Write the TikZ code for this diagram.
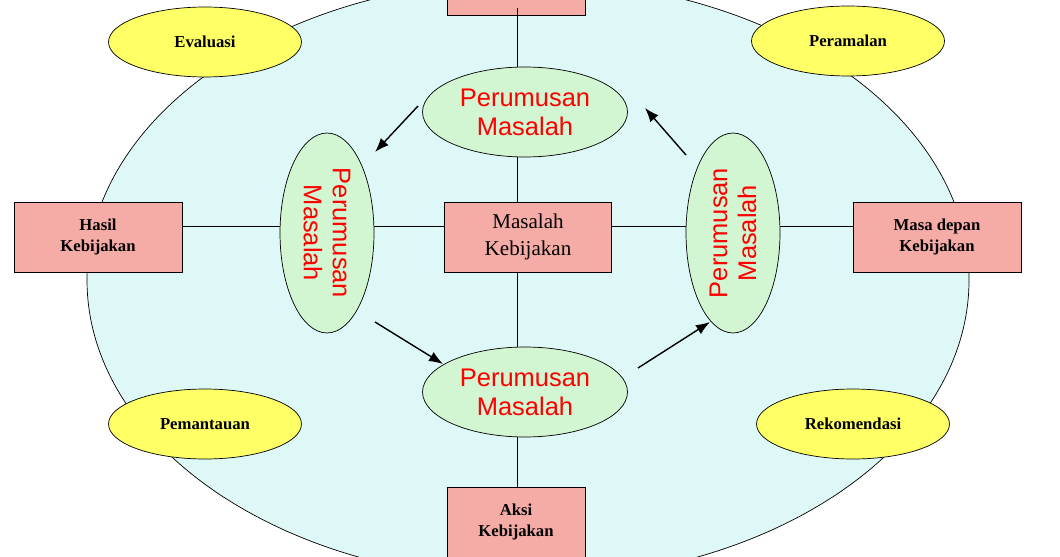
\documentclass[tikz,border=0pt]{standalone}
\usepackage{fontspec}
\setmainfont{Liberation Serif}
\newfontfamily\arialf{Liberation Sans}
\usetikzlibrary{shapes.geometric,arrows.meta,calc}
\definecolor{bigc}{HTML}{DDF8F6}
\definecolor{grn}{HTML}{D2F5D2}
\definecolor{yel}{HTML}{FFFF66}
\definecolor{pnk}{HTML}{F5ABA6}
\begin{document}
\begin{tikzpicture}[x=0.02cm,y=-0.02cm,
  box/.style={draw,fill=pnk,minimum width=3.36cm,minimum height=1.4cm,align=center,font=\bfseries\fontsize{9.5}{12}\selectfont},
  gr/.style={draw,ellipse,fill=grn,minimum width=4.1cm,minimum height=1.8cm,inner sep=0pt,align=center,text=red,font=\arialf\fontsize{14.5}{16.5}\selectfont},
  grv/.style={gr,minimum width=4cm,minimum height=1.88cm},
  ye/.style={draw,ellipse,fill=yel,minimum width=3.86cm,minimum height=1.4cm,font=\bfseries\fontsize{9.5}{11}\selectfont},
  arr/.style={-{Latex[length=8pt,width=6pt]},thick}]
\useasboundingbox (0,0) rectangle (1060,557);
\draw[fill=bigc] (528,280) ellipse [x radius=441, y radius=300];
\node[box,minimum width=2.76cm] (top) at (516,-20) {};
\node[box,minimum width=2.76cm] (bot) at (516,522) {Aksi\\Kebijakan};
\node[box] (left) at (98,237) {Hasil\\Kebijakan};
\node[box] (right) at (937,237) {Masa depan\\Kebijakan};
\node[box,minimum width=3.34cm,font=\fontsize{12}{15}\selectfont] (mid) at (528,237) {Masalah\\Kebijakan};
\node[gr] (gt) at (525,112) {Perumusan\\Masalah};
\node[gr] (gb) at (525,392) {Perumusan\\Masalah};
\node[grv,rotate=-90] (gl) at (327,233) {Perumusan\\Masalah};
\node[grv,rotate=90] (gr2) at (733,233) {Perumusan\\Masalah};
\node[ye] (e1) at (205,42) {Evaluasi};
\node[ye] (e2) at (848,41) {Peramalan};
\node[ye] (e3) at (205,424) {Pemantauan};
\node[ye] (e4) at (853,424) {Rekomendasi};
\draw ($(top.center)+(1,28)$) -- ($(gt.center)+(-8,-45)$);
\draw ($(gt.center)+(-8,45)$) -- ($(mid.center)+(-11,-35)$);
\draw ($(mid.center)+(-11,35)$) -- ($(gb.center)+(-8,-45)$);
\draw ($(gb.center)+(-8,45)$) -- ($(bot.center)+(1,-34)$);
\draw ($(left.center)+(84,-11)$) -- ($(gl.center)+(-47,-7)$);
\draw ($(gl.center)+(47,-7)$) -- ($(mid.center)+(-83,-11)$);
\draw ($(mid.center)+(83,-11)$) -- ($(gr2.center)+(-47,-7)$);
\draw ($(gr2.center)+(47,-7)$) -- ($(right.center)+(-84,-11)$);
\coordinate (a1) at (418,106); \coordinate (b1) at (375,152);
\coordinate (a2) at (686,155); \coordinate (b2) at (645,108);
\coordinate (a3) at (375,322); \coordinate (b3) at (443,364);
\coordinate (a4) at (638,368); \coordinate (b4) at (710,322);
\draw[arr] (a1) -- (b1);
\draw[arr] (a2) -- (b2);
\draw[arr] (a3) -- (b3);
\draw[arr] (a4) -- (b4);
\end{tikzpicture}
\end{document}
